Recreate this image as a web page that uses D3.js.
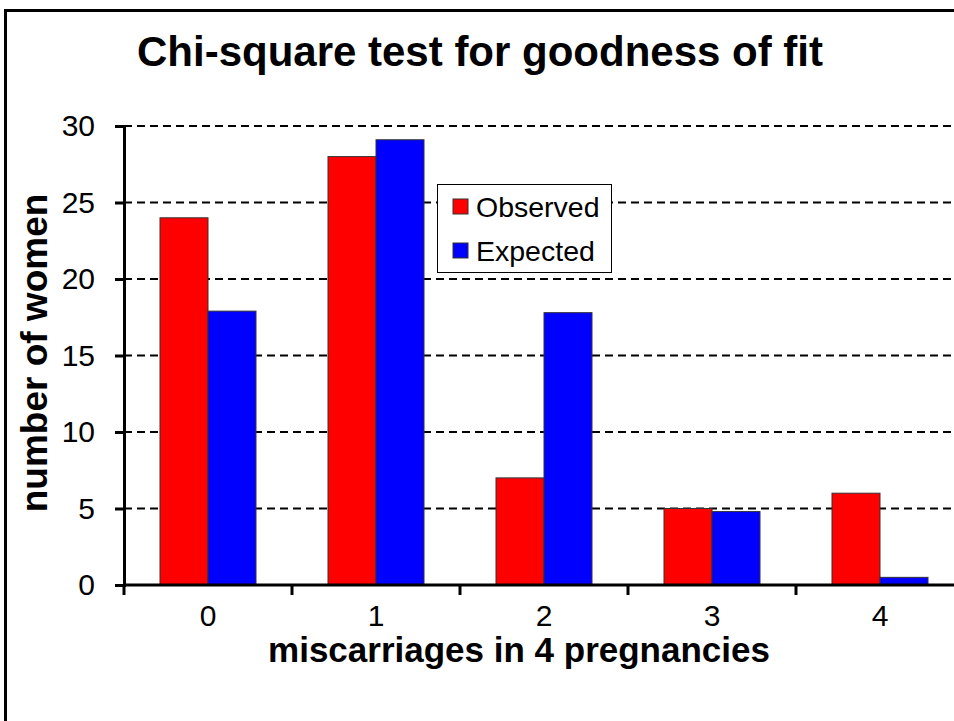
<!DOCTYPE html>
<html>
<head>
<meta charset="utf-8">
<script src="https://cdn.jsdelivr.net/npm/d3@7"></script>
<style>
  html, body { margin: 0; padding: 0; background: #fff; overflow: hidden; }
  svg { display: block; font-family: "Liberation Sans", Arial, sans-serif; }
</style>
</head>
<body>
<div id="chart"></div>
<script>
const categories = ["0", "1", "2", "3", "4"];
const seriesNames = ["Observed", "Expected"];
const observed = [24, 28, 7, 5, 6];
const expected = [17.9, 29.1, 17.8, 4.8, 0.5];
const yTicks = [0, 5, 10, 15, 20, 25, 30];
const colors = { Observed: "#ff0000", Expected: "#0000ff" };

const width = 954, height = 721;
const plotLeft = 124, plotBottom = 585, plotTop = 126, plotRight = 964;

const svg = d3.select("#chart").append("svg")
  .attr("width", width).attr("height", height);

// outer frame, runs off the bottom/right edge
svg.append("rect")
  .attr("x", 5.5).attr("y", 10.5)
  .attr("width", width + 20).attr("height", height + 20)
  .attr("fill", "none").attr("stroke", "#000").attr("stroke-width", 3);

const x0 = d3.scaleBand().domain(categories).range([plotLeft, plotRight]).padding(0);
const x1 = d3.scaleBand().domain(seriesNames).range([0, x0.bandwidth()])
  .paddingInner(0).paddingOuter(0.75);
const y = d3.scaleLinear().domain([0, 30]).range([plotBottom, plotTop]);

// dashed gridlines
svg.append("g").selectAll("line").data(yTicks.filter((d) => d > 0)).join("line")
  .attr("x1", plotLeft).attr("x2", width)
  .attr("y1", (d) => y(d)).attr("y2", (d) => y(d))
  .attr("stroke", "#000").attr("stroke-width", 2)
  .attr("stroke-dasharray", "8,5");

// bars
const rows = categories.map((c, i) => ({ cat: c, values: [
  { key: "Observed", value: observed[i] },
  { key: "Expected", value: expected[i] },
] }));

svg.append("g").selectAll("g").data(rows).join("g")
  .attr("transform", (d) => `translate(${x0(d.cat)},0)`)
  .selectAll("rect").data((d) => d.values).join("rect")
  .attr("x", (d) => x1(d.key))
  .attr("y", (d) => y(d.value))
  .attr("width", x1.bandwidth())
  .attr("height", (d) => y(0) - y(d.value))
  .attr("fill", (d) => colors[d.key])
  .attr("stroke", "#333").attr("stroke-width", 1);

// y axis
const yAxis = svg.append("g")
  .attr("transform", `translate(${plotLeft},0)`)
  .call(d3.axisLeft(y).tickValues(yTicks).tickSize(9).tickPadding(20));
yAxis.select(".domain").attr("stroke-width", 3);
yAxis.selectAll(".tick line").attr("stroke-width", 3);
yAxis.selectAll(".tick text")
  .attr("font-family", "Liberation Sans, Arial, sans-serif")
  .attr("font-size", 30).attr("fill", "#000");

// x axis: ticks at category boundaries
const bounds = categories.map((c) => x0(c)).concat([plotRight]);
svg.append("line")
  .attr("x1", plotLeft).attr("x2", plotRight).attr("y1", plotBottom).attr("y2", plotBottom)
  .attr("stroke", "#000").attr("stroke-width", 3);
svg.append("g").selectAll("line").data(bounds).join("line")
  .attr("x1", (d) => d).attr("x2", (d) => d)
  .attr("y1", plotBottom).attr("y2", plotBottom + 10)
  .attr("stroke", "#000").attr("stroke-width", 3);
svg.append("g").selectAll("text").data(categories).join("text")
  .attr("x", (d) => x0(d) + x0.bandwidth() / 2)
  .attr("y", 626)
  .attr("text-anchor", "middle")
  .attr("font-size", 30)
  .text((d) => d);

// legend
const legend = svg.append("g");
legend.append("rect")
  .attr("x", 437.5).attr("y", 184.5).attr("width", 174).attr("height", 88)
  .attr("fill", "#fff").attr("stroke", "#000").attr("stroke-width", 1);
seriesNames.forEach((name, i) => {
  legend.append("rect")
    .attr("x", 453).attr("y", 199 + i * 44).attr("width", 15).attr("height", 15)
    .attr("fill", colors[name]).attr("stroke", "#333").attr("stroke-width", 1);
  legend.append("text")
    .attr("x", 476).attr("y", 217 + i * 44)
    .attr("font-size", 28.5)
    .text(name);
});

// titles
svg.append("text")
  .attr("x", 480).attr("y", 66)
  .attr("text-anchor", "middle")
  .attr("font-size", 42).attr("font-weight", "bold")
  .text("Chi-square test for goodness of fit");

svg.append("text")
  .attr("x", 519).attr("y", 662)
  .attr("text-anchor", "middle")
  .attr("font-size", 35).attr("font-weight", "bold")
  .text("miscarriages in 4 pregnancies");

svg.append("text")
  .attr("transform", "translate(47,353) rotate(-90)")
  .attr("text-anchor", "middle")
  .attr("font-size", 37).attr("font-weight", "bold")
  .text("number of women");
</script>
</body>
</html>
